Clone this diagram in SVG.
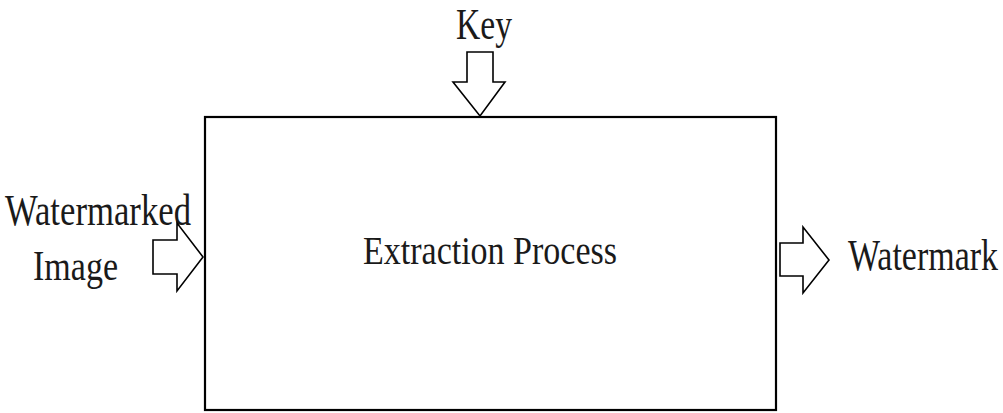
<svg xmlns="http://www.w3.org/2000/svg" width="1003" height="413" viewBox="0 0 1003 413">
<style>
.t{font-family:"Liberation Serif","Times New Roman",serif;fill:#1a1a1a}
.box{fill:#fff;stroke:#000;stroke-width:2.2}
.arr{fill:#fff;stroke:#000;stroke-width:1.6;stroke-linejoin:miter}
</style>
<rect width="1003" height="413" fill="#fff"/>
<g id="process">
<rect class="box" x="205" y="117" width="571" height="293"/>
<text class="t" x="363" y="264" font-size="39" textLength="254" lengthAdjust="spacingAndGlyphs">Extraction Process</text>
</g>
<g id="key">
<text class="t" x="456" y="39" font-size="44" textLength="56" lengthAdjust="spacingAndGlyphs">Key</text>
</g>
<g id="watermarked-image">
<text class="t" x="5" y="225" font-size="45" textLength="186" lengthAdjust="spacingAndGlyphs">Watermarked</text>
<text class="t" x="33" y="280" font-size="42" textLength="85" lengthAdjust="spacingAndGlyphs">Image</text>
</g>
<g id="watermark">
<text class="t" transform="translate(848,270) scale(1,1.32)" x="0" y="0" font-size="34" textLength="150" lengthAdjust="spacingAndGlyphs">Watermark</text>
</g>
<g id="connectors">
<path class="arr" d="M467,52 H493 V82 H505 L480,116 L453,82 H467 Z"/>
<path class="arr" d="M153,240 H177 V223 L203,257 L177,291 V274 H153 Z"/>
<path class="arr" d="M780,243 H803 V227 L829,260 L803,293 V276 H780 Z"/>
</g>
</svg>
